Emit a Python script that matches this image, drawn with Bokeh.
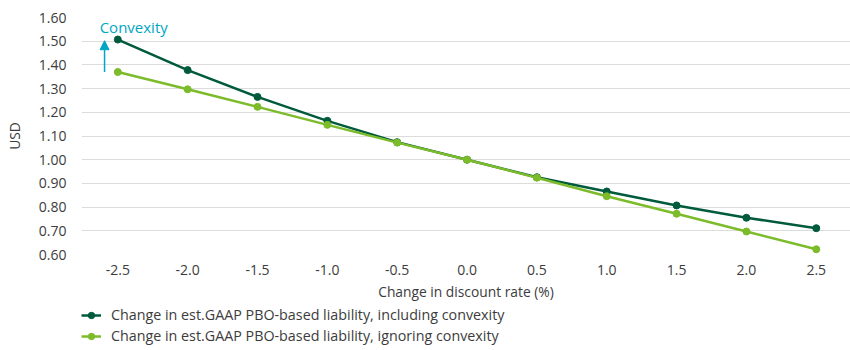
from bokeh.plotting import figure
from bokeh.layouts import column
from bokeh.models import (Range1d, FixedTicker, Legend, LegendItem, Arrow, NormalHead,
                          Label, CustomJSTickFormatter)
from bokeh.embed import file_html
from bokeh.resources import INLINE

rate_change = [-2.5, -2.0, -1.5, -1.0, -0.5, 0.0, 0.5, 1.0, 1.5, 2.0, 2.5]
incl_convexity = [1.507, 1.378, 1.265, 1.164, 1.074, 1.000, 0.926, 0.866, 0.807, 0.755, 0.711]
ign_convexity = [1.370, 1.297, 1.223, 1.147, 1.072, 1.000, 0.924, 0.846, 0.772, 0.697, 0.622]
y_ticks = [0.6, 0.7, 0.8, 0.9, 1.0, 1.1, 1.2, 1.3, 1.4, 1.5, 1.6]
series_labels = ["Change in est.GAAP PBO-based liability, including convexity",
                 "Change in est.GAAP PBO-based liability, ignoring convexity"]

DARK = "#005a3c"
LIGHT = "#7cbb2a"
TEAL = "#00a6c4"
FONT = "Open Sans"
TXT = "#3c3c3c"

p = figure(width=850, height=303, output_backend="svg", toolbar_location=None,
           x_range=Range1d(-2.76, 2.745), y_range=Range1d(0.6, 1.6),
           min_border_left=81, min_border_right=0, min_border_top=17,
           min_border_bottom=0, outline_line_color=None)

p.xaxis.ticker = FixedTicker(ticks=rate_change)
p.yaxis.ticker = FixedTicker(ticks=y_ticks)
p.xaxis.formatter = CustomJSTickFormatter(code="return tick.toFixed(1);")
p.yaxis.formatter = CustomJSTickFormatter(code="return tick.toFixed(2);")

for ax in (p.xaxis[0], p.yaxis[0]):
    ax.axis_line_color = None
    ax.major_tick_line_color = None
    ax.minor_tick_line_color = None
    ax.major_label_text_font = FONT
    ax.major_label_text_font_size = "14px"
    ax.major_label_text_color = TXT
    ax.axis_label_text_font = FONT
    ax.axis_label_text_font_size = "13.8px"
    ax.axis_label_text_font_style = "normal"
    ax.axis_label_text_color = TXT

p.xaxis.axis_label = "Change in discount rate (%)"
p.yaxis.axis_label = "USD"
p.xaxis.major_label_standoff = 4
p.xaxis.axis_label_standoff = 4
p.yaxis.major_label_standoff = 9
p.yaxis.axis_label_standoff = 12

p.xgrid.grid_line_color = None
p.ygrid.grid_line_color = "#dcdcdc"
p.ygrid.grid_line_width = 1

p.line(rate_change, incl_convexity, color=DARK, line_width=2.5)
p.scatter(rate_change, incl_convexity, color=DARK, size=7)
p.line(rate_change, ign_convexity, color=LIGHT, line_width=2.5)
p.scatter(rate_change, ign_convexity, color=LIGHT, size=7)

# Convexity annotation
ax_x = rate_change[0] - 0.095
p.add_layout(Arrow(end=NormalHead(size=9, fill_color=TEAL, line_color=TEAL),
                   x_start=ax_x, y_start=ign_convexity[0],
                   x_end=ax_x, y_end=incl_convexity[0] - 0.005,
                   line_color=TEAL, line_width=1.5))
p.add_layout(Label(x=rate_change[0] - 0.13, y=1.558, text="Convexity",
                   text_font=FONT, text_font_size="15px", text_color=TEAL,
                   text_baseline="middle"))

# Legend figure below
lg = figure(width=850, height=47, output_backend="svg", toolbar_location=None,
            x_range=Range1d(100, 101), y_range=Range1d(100, 101),
            x_axis_location=None, y_axis_location=None,
            min_border_left=76, min_border_right=0, min_border_top=2,
            min_border_bottom=0, outline_line_color=None)
lg.grid.grid_line_color = None
l1 = lg.line(rate_change, incl_convexity, color=DARK, line_width=2.5)
c1 = lg.scatter(rate_change, incl_convexity, color=DARK, size=6)
l2 = lg.line(rate_change, ign_convexity, color=LIGHT, line_width=2.5)
c2 = lg.scatter(rate_change, ign_convexity, color=LIGHT, size=6)

legend = Legend(items=[
    LegendItem(label=series_labels[0], renderers=[l1, c1]),
    LegendItem(label=series_labels[1], renderers=[l2, c2]),
], location="top_left", orientation="vertical",
    label_text_font=FONT, label_text_font_size="14.3px", label_text_color=TXT,
    border_line_color=None, background_fill_alpha=0,
    glyph_width=20, glyph_height=16, label_standoff=10, spacing=2,
    padding=0, margin=0, label_height=16)
lg.add_layout(legend)

layout = column(p, lg, spacing=0)
open("out.html", "w").write(file_html(layout, INLINE))
